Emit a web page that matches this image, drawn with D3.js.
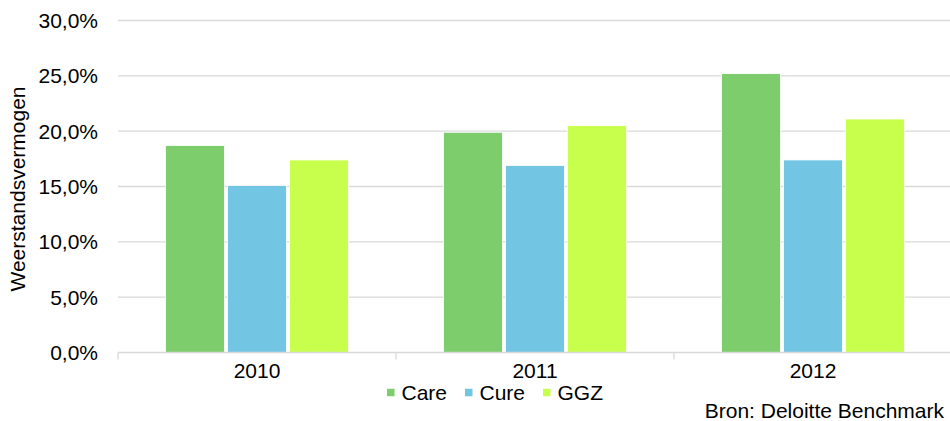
<!DOCTYPE html>
<html>
<head>
<meta charset="utf-8">
<script src="https://cdn.jsdelivr.net/npm/d3@7"></script>
<style>
  html, body { margin: 0; padding: 0; background: #fff; }
  svg { display: block; font-family: "Liberation Sans", Arial, sans-serif; }
</style>
</head>
<body>
<svg id="chart" width="950" height="421"></svg>
<script>
const categories = ["2010", "2011", "2012"];
const seriesNames = ["Care", "Cure", "GGZ"];
const careValues = [18.7, 19.9, 25.2];
const cureValues = [15.1, 16.9, 17.4];
const ggzValues  = [17.4, 20.5, 21.1];
const yTicks = [0, 5, 10, 15, 20, 25, 30];
const colors = ["#7ecd6d", "#72c6e4", "#c8ff4c"];
const yTitle = "Weerstandsvermogen";
const sourceText = "Bron: Deloitte Benchmark";

const seriesValues = [careValues, cureValues, ggzValues];
const rows = categories.map((c, i) => ({
  cat: c,
  vals: seriesNames.map((s, j) => ({ key: s, value: seriesValues[j][i], color: colors[j] }))
}));

const FS = "21px";
const svg = d3.select("#chart");
const plotLeft = 118, plotRight = 952, plotTop = 20.5, plotBottom = 352.5;

const x = d3.scaleBand().domain(categories).range([plotLeft, plotRight]).paddingInner(0).paddingOuter(0);
const y = d3.scaleLinear().domain([0, 30]).range([plotBottom, plotTop]);
const groupWidth = 183;
const xs = d3.scaleBand().domain(seriesNames).range([0, groupWidth]).paddingInner(0.05).paddingOuter(0);

// gridlines
svg.append("g").selectAll("line").data(yTicks.filter(t => t > 0)).join("line")
  .attr("x1", plotLeft).attr("x2", 950)
  .attr("y1", d => y(d)).attr("y2", d => y(d))
  .attr("stroke", "#d9d9d9").attr("stroke-width", 1.3);

// y labels
svg.append("g").selectAll("text").data(yTicks).join("text")
  .attr("x", 98).attr("y", d => y(d))
  .attr("dy", "0.36em").attr("text-anchor", "end")
  .attr("font-size", FS).attr("fill", "#000")
  .text(d => d3.format(".1f")(d).replace(".", ",") + "%");

// bars
const groups = svg.append("g").selectAll("g").data(rows).join("g")
  .attr("transform", d => `translate(${x(d.cat) + (x.bandwidth() - groupWidth) / 2},0)`);
groups.selectAll("rect").data(d => d.vals).join("rect")
  .attr("x", d => xs(d.key)).attr("width", xs.bandwidth())
  .attr("y", d => y(d.value)).attr("height", d => y(0) - y(d.value))
  .attr("fill", d => d.color).attr("stroke", "#fff").attr("stroke-width", 0.8);

// x axis line and ticks
svg.append("line").attr("x1", plotLeft).attr("x2", 950).attr("y1", y(0)).attr("y2", y(0))
  .attr("stroke", "#d9d9d9").attr("stroke-width", 1.3);
const tickPos = categories.map(c => x(c)).concat([plotRight]);
svg.append("g").selectAll("line").data(tickPos).join("line")
  .attr("x1", d => d).attr("x2", d => d).attr("y1", y(0)).attr("y2", y(0) + 7)
  .attr("stroke", "#d9d9d9").attr("stroke-width", 1.3);

// x labels
svg.append("g").selectAll("text").data(categories).join("text")
  .attr("x", d => x(d) + x.bandwidth() / 2).attr("y", 378)
  .attr("text-anchor", "middle")
  .attr("font-size", FS).attr("fill", "#000").text(d => d);

// y title
svg.append("text").attr("transform", "translate(25,189) rotate(-90)")
  .attr("text-anchor", "middle")
  .attr("font-size", FS).attr("fill", "#000").text(yTitle);

// legend
const legendX = [387, 465, 543];
const lg = svg.append("g").selectAll("g").data(seriesNames).join("g")
  .attr("transform", (d, i) => `translate(${legendX[i]},392.5)`);
lg.append("rect").attr("x", 0).attr("y", -3.75).attr("width", 7.5).attr("height", 7.5)
  .attr("fill", (d, i) => colors[i]);
lg.append("text").attr("x", 14.5).attr("y", 7)
  .attr("font-size", FS).attr("fill", "#000").text(d => d);

// source
svg.append("text").attr("x", 944).attr("y", 418)
  .attr("text-anchor", "end").attr("font-size", FS).attr("fill", "#000").text(sourceText);
</script>
</body>
</html>
